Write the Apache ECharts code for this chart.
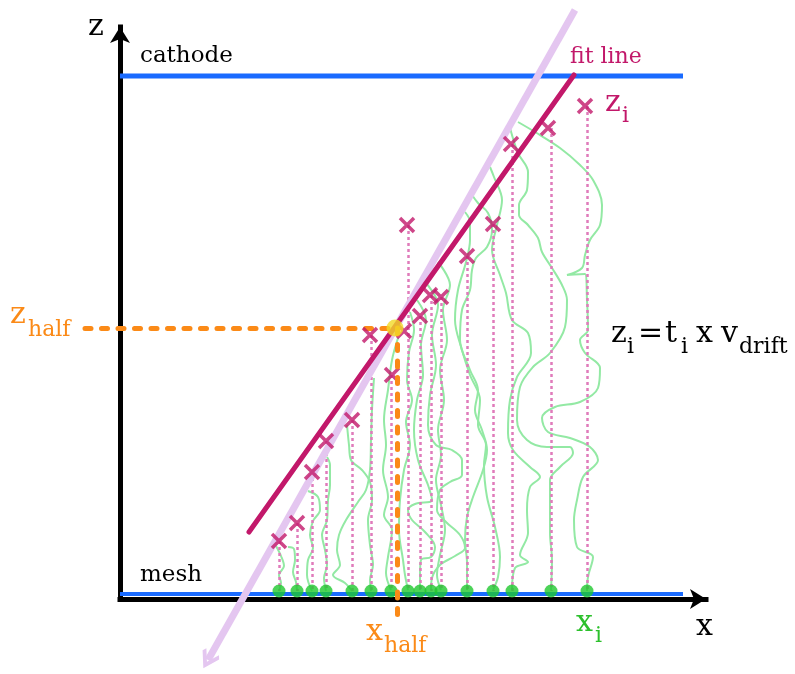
<!DOCTYPE html>
<html><head><meta charset="utf-8">
<script src="https://cdn.jsdelivr.net/npm/echarts@6/dist/echarts.min.js"></script>
<style>html,body{margin:0;padding:0;background:#fff}#c{width:795px;height:674px}</style>
</head><body><div id="c"></div><script>
// ---- data (x: distance along mesh, z: height above mesh, in chart units) ----
const dotX   = [159,177,192,206,232,251,271,288,300,311,321,347,373,392,431,467];
const meshZ  = 8;
const crossX = [159,177,192,206,232,250,272,287,300,310,321,347,373,391,428,465,284];
const crossZ = [58,76,127,158,179,264,224,374,283,304,302,343,375,455,471,493,268];
const cathodeLine = [[0,523],[563,523]];
const meshLine    = [[0,5],[563,5]];
const fitLine     = [[129,67],[454,524]];
const trackLine   = [[455,589],[88,-61]];
const half        = [275,271];
const halfHLine   = [[-35,271],[275,271]];
const halfVLine   = [[277,271],[277,-23]];

const driftPath1  = [[156,53],[161,43],[164,33],[159,24],[161,16],[159,8]];
const driftPath2  = [[168,52],[174,50],[175,39],[173,27],[176,17],[177,8]];
const driftPath3  = [[188,108],[198,102],[200,89],[193,78],[190,64],[193,51],[188,39],[187,24],[192,8]];
const driftPath4  = [[207,142],[210,134],[210,114],[208,99],[207,79],[202,64],[205,49],[207,34],[204,21],[206,8]];
const driftPath5  = [[227,174],[229,154],[231,139],[242,129],[250,117],[252,99],[248,79],[250,54],[253,34],[250,19],[251,8]];
const driftPath6  = [[254,221],[252,189],[251,159],[250,129],[246,109],[238,97],[226,79],[219,64],[217,49],[220,34],[213,24],[225,16],[232,8]];
const driftPath7  = [[278,261],[272,239],[268,209],[264,179],[266,154],[263,129],[268,102],[264,84],[272,69],[268,42],[266,26],[271,9]];
const driftPath8  = [[290,287],[294,269],[289,247],[287,219],[292,199],[286,177],[290,154],[284,129],[280,99],[279,69],[283,39],[285,24],[288,9]];
const driftPath9  = [[297,299],[306,279],[301,254],[303,224],[297,199],[294,169],[298,139],[308,114],[312,99],[295,95],[288,89],[292,79],[305,67],[315,52],[311,42],[301,39],[300,24],[300,9]];
const driftPath10 = [[306,316],[318,294],[312,264],[316,234],[310,204],[308,174],[316,154],[332,149],[342,139],[342,124],[330,117],[320,109],[317,89],[326,77],[340,64],[345,51],[335,43],[320,34],[312,21],[311,9]];
const driftPath11 = [[318,337],[330,314],[323,289],[327,259],[320,229],[324,199],[318,169],[321,144],[316,119],[321,94],[325,69],[320,44],[317,24],[321,9]];
const driftPath12 = [[352,404],[358,396],[368,386],[372,369],[367,352],[356,341],[352,329],[350,309],[342,289],[340,259],[350,229],[358,209],[355,189],[362,169],[367,149],[363,129],[353,102],[347,82],[345,59],[347,36],[347,9]];
const driftPath13 = [[345,387],[350,377],[350,359],[346,337],[338,309],[335,279],[342,249],[350,224],[360,199],[358,174],[366,154],[364,134],[367,102],[375,72],[380,42],[378,22],[373,9]];
const driftPath14 = [[370,432],[374,422],[382,399],[377,374],[372,349],[380,324],[386,306],[392,279],[408,266],[411,246],[397,222],[390,199],[388,166],[393,149],[410,132],[420,122],[410,112],[407,89],[408,66],[400,44],[408,37],[395,31],[392,9]];
const driftPath15 = [[390,471],[398,446],[408,427],[407,409],[399,394],[399,384],[408,374],[418,361],[422,347],[432,331],[442,314],[447,299],[445,272],[430,246],[413,232],[400,212],[397,179],[407,159],[427,152],[450,152],[453,146],[440,132],[430,119],[430,89],[430,66],[432,39],[431,9]];
const driftPath16 = [[398,477],[415,467],[440,451],[460,434],[473,419],[482,394],[480,374],[470,359],[465,344],[462,331],[447,324],[465,325],[467,299],[468,269],[460,259],[465,246],[480,231],[478,211],[460,197],[435,192],[422,181],[428,167],[450,161],[470,152],[478,139],[463,122],[457,99],[454,79],[457,52],[473,42],[468,22],[467,8]];
const driftPaths = [driftPath1,driftPath2,driftPath3,driftPath4,driftPath5,driftPath6,driftPath7,driftPath8,
  driftPath9,driftPath10,driftPath11,driftPath12,driftPath13,driftPath14,driftPath15,driftPath16];

// ---- styles ----
const BLUE='#1a6bff', MAG='#c2186a', PINK='#e07bbb', GREEN_L='#93e9a4', GREEN='#1fc82e',
      LAV='#e4c6f0', ORANGE='#fb8a17', YEL='#f2da26';
const FONT='DejaVu Serif';

const series = [];
// track with arrow head
series.push({type:'lines', coordinateSystem:'cartesian2d', clip:false, z:4, silent:true,
  symbol:['none','path://M50,0 L100,50 L88,62 L50,24 L12,62 L0,50 Z'], symbolSize:[30,19],
  lineStyle:{color:LAV, width:7, type:'solid', opacity:1},
  itemStyle:{color:LAV},
  data:[{coords:trackLine}]});
driftPaths.forEach(p=>series.push({type:'line', data:p, symbol:'none', smooth:0.35, z:2, silent:true,
  lineStyle:{color:GREEN_L, width:2}}));
series.push({type:'lines', coordinateSystem:'cartesian2d', z:3, silent:true,
  lineStyle:{color:PINK, width:2.5, type:[3,3], opacity:1},
  data: dotX.map((x,i)=>({coords:[[x,crossZ[i]],[x,meshZ]]}))});
series.push({type:'line', data:cathodeLine, symbol:'none', z:3, lineStyle:{color:BLUE, width:5}});
series.push({type:'line', data:meshLine, symbol:'none', z:3, lineStyle:{color:BLUE, width:4}});
series.push({type:'line', data:fitLine, symbol:'none', z:5, lineStyle:{color:MAG, width:5, cap:'round'}});
series.push({type:'lines', coordinateSystem:'cartesian2d', clip:false, z:6, silent:true,
  lineStyle:{color:ORANGE, width:5, type:[6,10.5], cap:'round', opacity:1},
  data:[{coords:halfHLine}]});
series.push({type:'lines', coordinateSystem:'cartesian2d', clip:false, z:8, silent:true,
  lineStyle:{color:ORANGE, width:5, type:[6,10.5], cap:'round', opacity:1},
  data:[{coords:halfVLine}]});
series.push({type:'scatter', data:dotX.map(x=>[x,meshZ]), symbolSize:13, z:7, itemStyle:{color:GREEN}});
series.push({type:'scatter', data:crossX.map((x,i)=>[x,crossZ[i]]), z:7,
  symbol:'path://M0,0L10,10M10,0L0,10', symbolSize:14,
  itemStyle:{color:'rgba(0,0,0,0)', borderColor:MAG, borderWidth:3.5}});
series.push({type:'scatter', data:[half], symbolSize:17, z:9, itemStyle:{color:YEL}});

function T(x,y,text,size,color){
  return {type:'text', x:x, y:y, z:100, style:{text:text, fontFamily:FONT, fontSize:size, fill:color, align:'left', verticalAlign:'middle'}};
}
const graphic = [
  T(88,27,'z',30,'#000'),
  T(140,56,'cathode',23,'#000'),
  T(570,57,'fit line',22,MAG),
  T(605,103,'z',30,MAG), T(622,116,'i',22,MAG),
  T(10,315,'z',30,ORANGE), T(28,330,'half',22,ORANGE),
  T(611,334,'z',30,'#000'), T(627,347,'i',22,'#000'), T(638,334,'=',30,'#000'),
  T(665,334,'t',30,'#000'), T(681,347,'i',22,'#000'), T(696,334,'x',30,'#000'),
  T(721,334,'v',30,'#000'), T(739,347,'drift',22,'#000'),
  T(366,632,'x',30,ORANGE), T(384,646,'half',22,ORANGE),
  T(576,623,'x',30,'#2cc02c'), T(595,636,'i',22,'#2cc02c'),
  T(696,627,'x',30,'#000'),
  T(140,575,'mesh',23,'#000')
];

const chart = echarts.init(document.getElementById('c'), null, {renderer:'canvas'});
chart.setOption({
  animation:false,
  backgroundColor:'#fff',
  grid:{left:120, right:89, top:27, bottom:75},
  xAxis:{type:'value', min:0, max:586, axisLabel:{show:false}, axisTick:{show:false}, splitLine:{show:false},
    axisLine:{show:true, onZero:true, symbol:['none','arrow'], symbolSize:[15,16], lineStyle:{color:'#000', width:5, cap:'square'}}},
  yAxis:{type:'value', min:0, max:572, axisLabel:{show:false}, axisTick:{show:false}, splitLine:{show:false},
    axisLine:{show:true, onZero:true, symbol:['none','arrow'], symbolSize:[15,16], lineStyle:{color:'#000', width:5, cap:'square'}}},
  series: series,
  graphic: graphic
});
</script></body></html>
